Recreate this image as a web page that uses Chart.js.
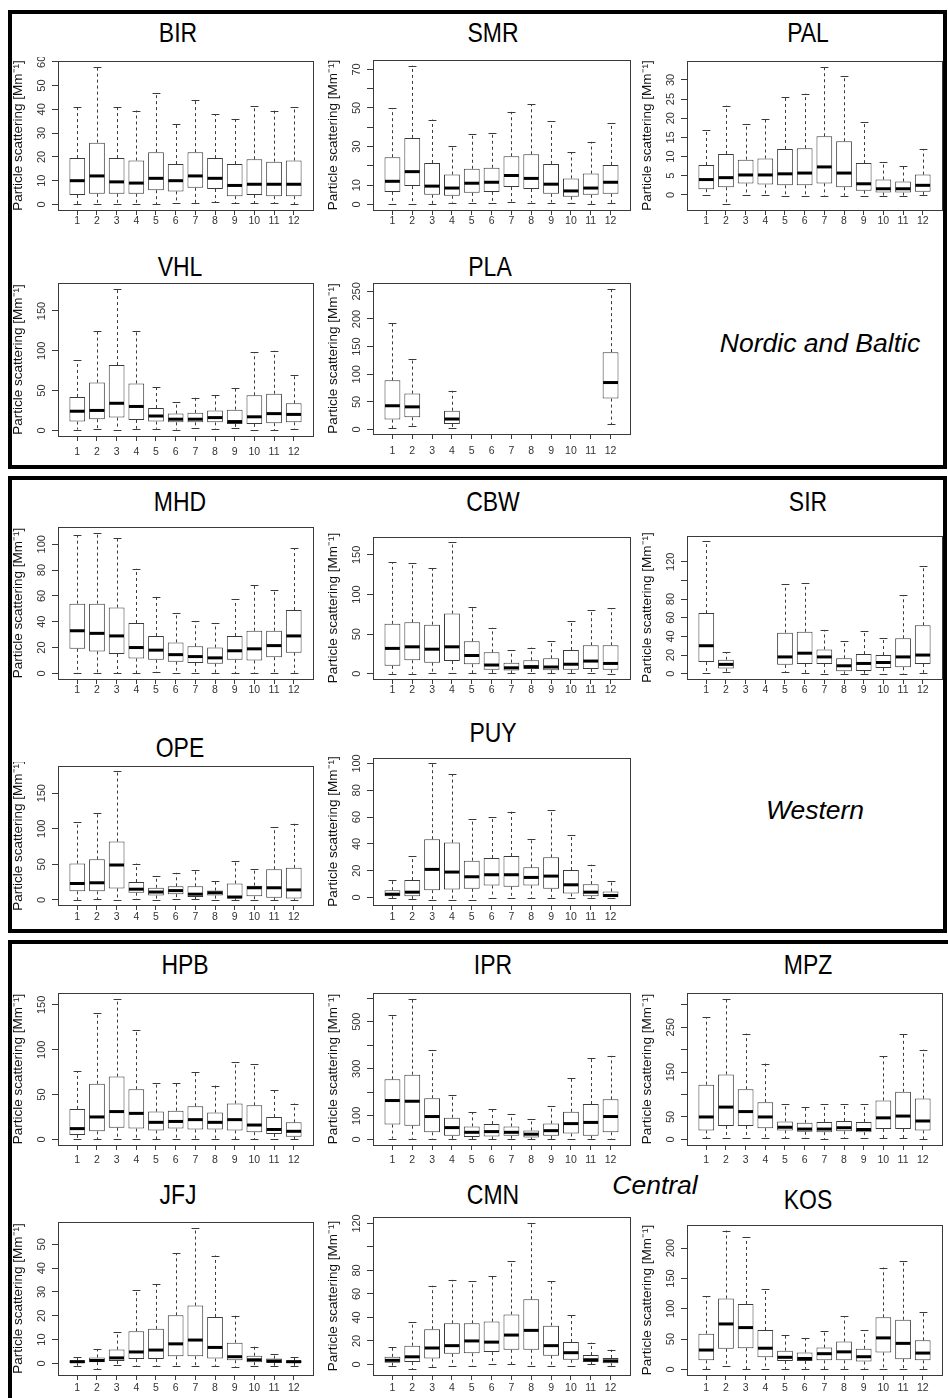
<!DOCTYPE html>
<html>
<head>
<meta charset="utf-8">
<script src="https://cdn.jsdelivr.net/npm/chart.js@4.4.0/dist/chart.umd.min.js"></script>
<style>
html, body { margin: 0; padding: 0; background: #fff; overflow: hidden; }
body { width: 948px; height: 1398px; position: relative; }
.frame { position: absolute; border: 4px solid #000; box-sizing: border-box; }
.title { position: absolute; font-family: "Liberation Sans", Arial, sans-serif; font-size: 28px; color: #000; transform: translate(-50%, -50%) scaleX(0.82); white-space: nowrap; }
.group { position: absolute; font-family: "Liberation Sans", Arial, sans-serif; font-style: italic; font-size: 26.5px; color: #000; transform: translate(-50%, -50%); white-space: nowrap; }
canvas { position: absolute; }
</style>
</head>
<body>
<div class="frame" style="left:8px;top:10px;width:939px;height:459px"></div>
<div class="frame" style="left:8px;top:476px;width:939px;height:457px"></div>
<div class="frame" style="left:8px;top:940px;width:950px;height:480px"></div>
<div class="group" style="left:820px;top:343px">Nordic and Baltic</div>
<div class="group" style="left:815px;top:810px">Western</div>
<div class="group" style="left:655px;top:1185px">Central</div>

<script>
const MONTHS = [1, 2, 3, 4, 5, 6, 7, 8, 9, 10, 11, 12];

// per month: [lower whisker, Q1, median, Q3, upper whisker], null = no data
const BIR = [[0,4,10,19.5,41],[0,4.5,12,26,58],[0,4.5,9.5,19.5,41],[0,4.5,9,18.5,39.5],[0,6,11,22,47],[0.5,5.5,10,17,34],
             [0.5,7,12,22,44],[1,6.5,11,19.5,38],[0.5,3.5,8,17,36],[0.5,4,8.5,19,41.5],[0.5,3.5,8.5,18,39.5],[0,3.5,8.5,18.5,41]];
const SMR = [[0,6.5,12,24.5,50],[0,9.5,17,34.5,72],[0,5,9.5,21.5,44],[1,4.5,8.5,15.5,30.5],[1,6,11,18.5,36.5],[1,6.5,11.5,19,37],
             [1.5,9,15,25,48],[1,8,13.5,26,52],[1,5.5,10.5,21,43],[0.5,4,7,13.5,27],[0,5,8.5,16,32.5],[0.5,5.5,11.5,20.5,42]];
const PAL = [[0,1.5,4,7.8,17],[-2.5,2,4.5,10.7,23.3],[0,3,5.2,9.2,18.5],[0,2.7,5.2,9.5,19.7],[-0.3,2.5,5.5,12,25.6],[-0.3,2.5,5.7,12.2,26.4],
             [-0.3,3,7.3,15.3,33.5],[-0.2,2,5.7,14,31],[-0.2,1.1,2.9,8.3,19],[-0.2,0.6,1.6,4,8.7],[-0.2,0.6,1.6,3.5,7.6],[0,0.8,2.5,5.3,12]];
const VHL = [[1,11,24,42,88],[2,14,25,60,125],[1,16,34,82,178],[2,13,30,59,125],[2,11,18,28,54],[1,10,14,21,36],
             [3,10,14,22,41],[2,10,16,25,45],[3,8,11,26,53],[1,8,17,44,98],[0,9,21,46,100],[2,10,20,34,69]];
const PLA = [[2,18,43,89,192],[7,22,41,65,128],null,[2,10,19,34,70],null,null,
             null,null,null,null,null,[10,56,85,140,255]];
const MHD = [[0,19,33,54,107],[0,17,31,54,109],[0,15,29,51,105],[0,11.5,20,39,81],[1,10.5,18,29,59.5],[0,9,14.5,24,47],
             [0,8,13,21,40.5],[0,7.5,12,20,39],[0,10.5,17.5,29,57.5],[0,10,19,33,68.5],[0,12.5,21.5,33,64.5],[0.5,16,29,49,97]];
const CBW = [[0,10,32,63,141],[0,17,34,65,140],[1,14,31,62,133],[1,16,34,76,166],[1,12,23,41,84],[1,5,11,27,58],
             [1,4,7.5,14,30],[1,6,9,17,33],[1,4.5,8.5,19.5,41],[1,5,12,30,67],[1,6,16,36,80],[0,5,13,36,83]];
const SIR = [[1,12.5,30,65,142],[2,5.5,10,15,23],null,null,[2,9.5,18,44,96],[1,10.5,22,45,97],
             [0,10.5,18,26,47],[0,2.5,8.5,16.5,35.5],[0,3,11,21,46],[0,6,12,20,38],[0,7,18,38,84],[1,10.5,20,52,115]];
const OPE = [[0,12,23,51,109],[1,12,24,57,122],[0,16,49,82,181],[1,10,15,25,51],[0,6,11,17,34],[1,8,13,19,38],
             [1,4,8,19,42],[0,6,10,13,26],[0,2,4,23,55],[0,5,17,20,43],[0,3,17,43,102],[0,2,14,45,107]];
const PUY = [[-0.5,1,2.5,5.5,13],[-1,1,4,13,31],[-1.5,5.5,21,43.5,100],[-1.5,6,19,41,92],[-1.5,6.5,15.5,27.5,58.5],[0,9,17,29.5,60],
             [0,8,17,31,64],[-0.5,9,15,22.5,43.5],[0,6.5,16,30,65],[-0.5,3,9.5,20.5,46.5],[0,1,4,10,24.5],[0,0,1.5,4.5,12]];
const HPB = [[0,5,12,34,76],[0,9,25,62,141],[0,13,31,70,157],[0,12,29,56,122],[0,10,19,31,63],[0,12,20,32,63],
             [0,11,22,37,75],[0,11,19,30,60],[0,10,22,40,86],[0,8,16,38,84],[0,6,11,25,55],[0,3,9,19,40]];
const IPR = [[3,63,165,255,528],[3,58,162,275,598],[3,30,97,175,380],[2,15,50,92,190],[0,10,30,55,115],[0,12,33,65,130],
             [3,15,30,55,108],[0,8,22,38,88],[0,15,37,67,140],[0,25,67,117,260],[3,15,72,150,345],[3,30,97,170,355]];
const MPZ = [[2,20,50,122,273],[2,30,72,145,314],[3,30,62,112,236],[2,25,50,83,169],[3,20,27,40,78],[3,17,23,37,72],
             [0,16,23,39,79],[3,18,26,41,79],[2,16,22,39,79],[3,23,48,87,185],[2,23,52,106,235],[0,20,41,91,200]];
const JFJ = [[-1,0,0.7,1.3,2.7],[-2.5,0.5,1.2,2.5,6],[-0.5,1,2.3,5.8,13.3],[-1,1.8,4.8,13.5,31],[-1,1.8,5.6,14.5,33.3],[-1.2,3,8.2,20.2,46.2],
             [-1.2,3,9.8,24.3,57],[-1,2,6.7,19.5,45.3],[-1.5,1.3,2.8,8.7,20],[-1,0.5,1.5,3.2,7],[-1,0.2,1,2,4],[-1.3,0.2,0.7,1.3,2.8]];
const CMN = [[-1,1.5,3.5,6.5,15],[-4,2,6.5,16,36],[-2,5,14,30,67],[-1,9,16,35,72],[-1,9.5,20,35,71],[0,10.5,19,36.5,75.5],
             [0,12.5,25,42.5,88],[-1,12.5,29,55.5,120.5],[-1,7.5,16,33,71],[-1,4,10,19,42.5],[0,2,4,8,18.5],[-1,1,3,5.5,12.5]];
const KOS = [[0,15,32,59,121],[6,34,75,117,229],[0,35,69,108,218],[1,20,35,65,132],[1,14,20,31,57],[1,14,18,28,52],
             [0,15,26,36,63],[1,15,29,46,88],[1,13,21,34,65],[0,28,52,86,168],[0,17,43,82,179],[1,15,27,48,94]];

// y-axis tick positions and the ones that carry a label
const BIR_TICKS = [0, 10, 20, 30, 40, 50, 60];
const SMR_TICKS = [0, 10, 20, 30, 40, 50, 60, 70];
const SMR_LABELS = [0, 10, 30, 50, 70];
const PAL_TICKS = [0, 5, 10, 15, 20, 25, 30];
const T50_150 = [0, 50, 100, 150];
const PLA_TICKS = [0, 50, 100, 150, 200, 250];
const T20_100 = [0, 20, 40, 60, 80, 100];
const T20_120 = [0, 20, 40, 60, 80, 100, 120];
const T20_120_LABELS = [0, 20, 40, 60, 80, 120];
const IPR_TICKS = [0, 100, 200, 300, 400, 500, 600];
const IPR_LABELS = [0, 100, 300, 500];
const MPZ_TICKS = [0, 50, 100, 150, 200, 250, 300];
const MPZ_LABELS = [0, 50, 150, 250];
const JFJ_TICKS = [0, 10, 20, 30, 40, 50];
const KOS_TICKS = [0, 50, 100, 150, 200];

// layout: plot box [left, top, right, bottom], title centre, x-label centre
const PANELS = [
  { name: 'BIR', stats: BIR, ticks: BIR_TICKS, labels: BIR_TICKS, box: [58, 61, 313, 210], title: [178, 33], lab: 220 },
  { name: 'SMR', stats: SMR, ticks: SMR_TICKS, labels: SMR_LABELS, box: [373, 60, 630, 210], title: [493, 33], lab: 220 },
  { name: 'PAL', stats: PAL, ticks: PAL_TICKS, labels: PAL_TICKS, box: [687, 61, 942, 210], title: [808, 33], lab: 220 },
  { name: 'VHL', stats: VHL, ticks: T50_150, labels: T50_150, box: [58, 283, 313, 436], title: [180, 267], lab: 452 },
  { name: 'PLA', stats: PLA, ticks: PLA_TICKS, labels: PLA_TICKS, box: [373, 283, 630, 434], title: [490, 267], lab: 451 },
  { name: 'MHD', stats: MHD, ticks: T20_100, labels: T20_100, box: [58, 527, 313, 679], title: [180, 502], lab: 688 },
  { name: 'CBW', stats: CBW, ticks: T50_150, labels: T50_150, box: [373, 537, 630, 679], title: [493, 502], lab: 688 },
  { name: 'SIR', stats: SIR, ticks: T20_120, labels: T20_120_LABELS, box: [687, 536, 942, 679], title: [808, 502], lab: 688 },
  { name: 'OPE', stats: OPE, ticks: T50_150, labels: T50_150, box: [58, 766, 313, 905], title: [180, 748], lab: 917 },
  { name: 'PUY', stats: PUY, ticks: T20_100, labels: T20_100, box: [373, 758, 630, 905], title: [493, 733], lab: 917 },
  { name: 'HPB', stats: HPB, ticks: T50_150, labels: T50_150, box: [58, 993, 313, 1145], title: [185, 965], lab: 1160 },
  { name: 'IPR', stats: IPR, ticks: IPR_TICKS, labels: IPR_LABELS, box: [373, 993, 630, 1145], title: [493, 965], lab: 1160 },
  { name: 'MPZ', stats: MPZ, ticks: MPZ_TICKS, labels: MPZ_LABELS, box: [687, 993, 942, 1145], title: [808, 965], lab: 1160 },
  { name: 'JFJ', stats: JFJ, ticks: JFJ_TICKS, labels: JFJ_TICKS, box: [58, 1222, 313, 1375], title: [178, 1195], lab: 1388 },
  { name: 'CMN', stats: CMN, ticks: T20_120, labels: T20_120_LABELS, box: [373, 1217, 630, 1375], title: [493, 1195], lab: 1388 },
  { name: 'KOS', stats: KOS, ticks: KOS_TICKS, labels: KOS_TICKS, box: [687, 1225, 942, 1375], title: [808, 1200], lab: 1388 }
];

const LEFT_W = 50, PAD = 4, BOTTOM_H = 26, TICK = 5;
const LINE = '#3a3a3a';

// draws the plot frame, whiskers, medians and the rotated y labels
const boxPlot = {
  id: 'boxPlot',
  afterDatasetsDraw(chart) {
    const ctx = chart.ctx, y = chart.scales.y;
    const stats = chart.data.datasets[0].stats;
    ctx.save();
    chart.getDatasetMeta(0).data.forEach((bar, i) => {
      const s = stats[i];
      const x = Math.round(bar.x) + 0.5, w = bar.width;
      ctx.strokeStyle = LINE;
      ctx.lineWidth = 1;
      ctx.setLineDash([3, 3]);
      ctx.beginPath();
      ctx.moveTo(x, y.getPixelForValue(s[3])); ctx.lineTo(x, y.getPixelForValue(s[4]));
      ctx.moveTo(x, y.getPixelForValue(s[1])); ctx.lineTo(x, y.getPixelForValue(s[0]));
      ctx.stroke();
      ctx.setLineDash([]);
      ctx.beginPath();
      [s[0], s[4]].forEach(v => {
        const py = Math.round(y.getPixelForValue(v)) + 0.5;
        ctx.moveTo(x - w / 4, py); ctx.lineTo(x + w / 4, py);
      });
      ctx.stroke();
      ctx.strokeStyle = '#000';
      ctx.lineWidth = 3;
      ctx.beginPath();
      const pm = y.getPixelForValue(s[2]);
      ctx.moveTo(bar.x - w / 2 + 0.5, pm); ctx.lineTo(bar.x + w / 2 - 0.5, pm);
      ctx.stroke();
    });
    ctx.restore();
  },
  afterDraw(chart) {
    const ctx = chart.ctx, a = chart.chartArea, y = chart.scales.y;
    const shown = chart.options.plugins.boxPlot.labels;
    ctx.save();
    ctx.strokeStyle = LINE;
    ctx.lineWidth = 1;
    ctx.strokeRect(Math.round(a.left) + 0.5, Math.round(a.top) + 0.5, Math.round(a.right - a.left), Math.round(a.bottom - a.top));
    ctx.fillStyle = '#333';
    ctx.font = '11px "Liberation Sans", Arial, sans-serif';
    ctx.textAlign = 'center';
    ctx.textBaseline = 'middle';
    y.ticks.forEach(t => {
      if (!shown.includes(t.value)) return;
      ctx.save();
      ctx.translate(a.left - 16, y.getPixelForValue(t.value));
      ctx.rotate(-Math.PI / 2);
      ctx.fillText(String(t.value), 0, 0);
      ctx.restore();
    });
    ctx.restore();
  }
};

PANELS.forEach(p => {
  const [l, t, r, b] = p.box;
  const el = document.createElement('div');
  el.className = 'title';
  el.style.left = p.title[0] + 'px';
  el.style.top = p.title[1] + 'px';
  el.textContent = p.name;
  document.body.appendChild(el);

  const cv = document.createElement('canvas');
  const w = r - l + LEFT_W + PAD, h = b - t + PAD + BOTTOM_H;
  cv.width = w; cv.height = h;
  cv.style.left = (l - LEFT_W) + 'px';
  cv.style.top = (t - PAD) + 'px';
  cv.style.width = w + 'px';
  cv.style.height = h + 'px';
  document.body.appendChild(cv);

  const present = MONTHS.map((m, i) => ({ m, s: p.stats[i] })).filter(d => d.s);
  const lo = Math.min(...present.map(d => d.s[0]));
  const hi = Math.max(...present.map(d => d.s[4]));
  const ext = (hi - lo) * 0.04;

  new Chart(cv, {
    type: 'bar',
    data: {
      datasets: [{
        data: present.map(d => ({ x: d.m, y: [d.s[1], d.s[3]] })),
        stats: present.map(d => d.s),
        backgroundColor: '#fff',
        borderColor: LINE,
        borderWidth: 1,
        borderSkipped: false,
        barPercentage: 0.8,
        categoryPercentage: 1.0
      }]
    },
    options: {
      responsive: false,
      animation: false,
      devicePixelRatio: 1,
      layout: { padding: { top: PAD, right: PAD, left: 0, bottom: 0 } },
      plugins: {
        legend: { display: false },
        tooltip: { enabled: false },
        boxPlot: { labels: p.labels }
      },
      scales: {
        x: {
          type: 'linear',
          min: 0.02,
          max: 12.98,
          offset: false,
          afterBuildTicks: s => { s.ticks = MONTHS.map(v => ({ value: v })); },
          afterFit: s => { s.height = BOTTOM_H; },
          grid: { display: true, drawOnChartArea: false, offset: false, tickLength: TICK, color: LINE },
          border: { display: false },
          ticks: {
            color: '#333',
            font: { family: '"Liberation Sans", Arial, sans-serif', size: 10.5 },
            padding: Math.max(0, p.lab - b - TICK - 6),
            maxRotation: 0,
            autoSkip: false
          }
        },
        y: {
          min: lo - ext,
          max: hi + ext,
          beginAtZero: false,
          afterBuildTicks: s => { s.ticks = p.ticks.map(v => ({ value: v })); },
          afterFit: s => { s.width = LEFT_W; },
          grid: { display: true, drawOnChartArea: false, tickLength: 6, color: LINE },
          border: { display: false },
          ticks: { display: false },
          title: {
            display: true,
            text: 'Particle scattering [Mm\u207B\u00B9]',
            color: '#111',
            font: { family: '"Liberation Sans", Arial, sans-serif', size: 13.5 },
            padding: { top: 2, bottom: 0 }
          }
        }
      }
    },
    plugins: [boxPlot]
  });
});
</script>
</body>
</html>
